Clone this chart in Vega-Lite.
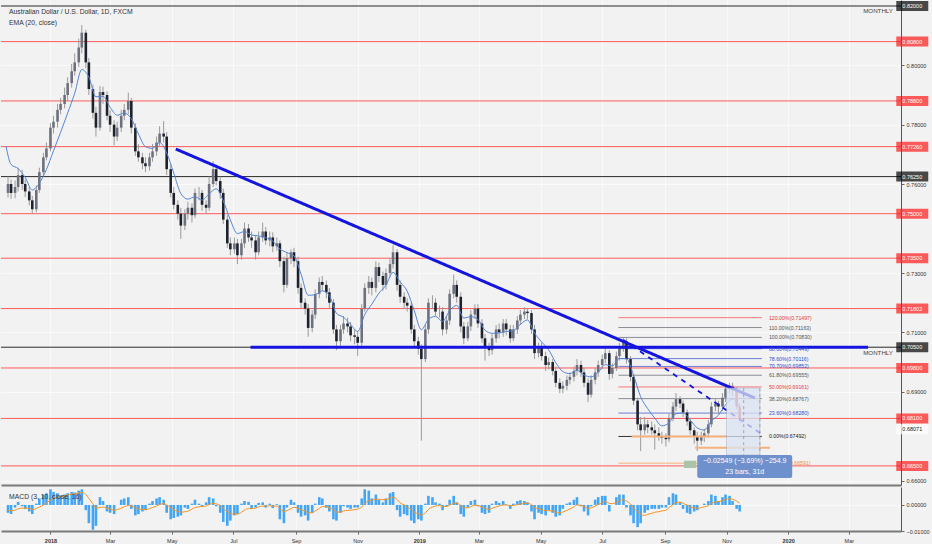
{
  "$schema": "https://vega.github.io/schema/vega-lite/v6.json",
  "background": "#f2f2f2",
  "padding": 0,
  "spacing": 2,
  "config": {
    "font": "Liberation Sans",
    "view": {"stroke": null},
    "axis": {"labelColor": "#333333", "tickColor": "#666666", "domainColor": "#555555", "gridColor": "#fafafa", "labelFontSize": 5.5}
  },
  "datasets": {
    "px": [
      {"d":"2017-11-20","o":0.757,"h":0.7625,"l":0.7555,"c":0.76,"m":-0.003,"s":-0.002},
      {"d":"2017-11-23","o":0.76,"h":0.7615,"l":0.755,"c":0.757,"m":-0.0035,"s":-0.0022},
      {"d":"2017-11-27","o":0.757,"h":0.7612,"l":0.7552,"c":0.759,"m":-0.001,"s":-0.002},
      {"d":"2017-11-30","o":0.759,"h":0.7655,"l":0.7575,"c":0.763,"m":0.0012,"s":-0.0015},
      {"d":"2017-12-04","o":0.763,"h":0.7648,"l":0.758,"c":0.76,"m":-0.0005,"s":-0.0012},
      {"d":"2017-12-07","o":0.76,"h":0.7615,"l":0.7556,"c":0.7575,"m":-0.0015,"s":-0.0012},
      {"d":"2017-12-11","o":0.7575,"h":0.759,"l":0.7528,"c":0.7545,"m":-0.0025,"s":-0.0014},
      {"d":"2017-12-14","o":0.7545,"h":0.756,"l":0.7501,"c":0.7515,"m":-0.0035,"s":-0.0018},
      {"d":"2017-12-18","o":0.7515,"h":0.7595,"l":0.7505,"c":0.758,"m":0.0005,"s":-0.0014},
      {"d":"2017-12-21","o":0.758,"h":0.7655,"l":0.757,"c":0.764,"m":0.0025,"s":-0.0008},
      {"d":"2017-12-25","o":0.764,"h":0.7705,"l":0.763,"c":0.769,"m":0.004,"s":0.0},
      {"d":"2017-12-28","o":0.769,"h":0.774,"l":0.768,"c":0.772,"m":0.0045,"s":0.0008},
      {"d":"2018-01-01","o":0.772,"h":0.7805,"l":0.771,"c":0.779,"m":0.006,"s":0.0018},
      {"d":"2018-01-04","o":0.779,"h":0.783,"l":0.777,"c":0.781,"m":0.005,"s":0.0025},
      {"d":"2018-01-08","o":0.781,"h":0.787,"l":0.779,"c":0.785,"m":0.0045,"s":0.003},
      {"d":"2018-01-11","o":0.785,"h":0.789,"l":0.7835,"c":0.787,"m":0.0035,"s":0.0032},
      {"d":"2018-01-15","o":0.787,"h":0.7925,"l":0.7855,"c":0.79,"m":0.004,"s":0.0035},
      {"d":"2018-01-18","o":0.79,"h":0.796,"l":0.788,"c":0.794,"m":0.0045,"s":0.0038},
      {"d":"2018-01-22","o":0.794,"h":0.8005,"l":0.7925,"c":0.798,"m":0.005,"s":0.0041},
      {"d":"2018-01-25","o":0.798,"h":0.804,"l":0.7965,"c":0.801,"m":0.0048,"s":0.0043},
      {"d":"2018-01-29","o":0.801,"h":0.809,"l":0.7995,"c":0.806,"m":0.0055,"s":0.0046},
      {"d":"2018-02-01","o":0.806,"h":0.8136,"l":0.804,"c":0.811,"m":0.006,"s":0.0048},
      {"d":"2018-02-05","o":0.811,"h":0.812,"l":0.799,"c":0.801,"m":-0.002,"s":0.004},
      {"d":"2018-02-08","o":0.801,"h":0.8025,"l":0.79,"c":0.792,"m":-0.007,"s":0.0025},
      {"d":"2018-02-12","o":0.792,"h":0.7935,"l":0.782,"c":0.784,"m":-0.0095,"s":0.0005},
      {"d":"2018-02-15","o":0.784,"h":0.786,"l":0.776,"c":0.779,"m":-0.008,"s":-0.0012},
      {"d":"2018-02-19","o":0.779,"h":0.793,"l":0.778,"c":0.791,"m":0.003,"s":-0.001},
      {"d":"2018-02-22","o":0.791,"h":0.7928,"l":0.787,"c":0.79,"m":0.0015,"s":-0.0008},
      {"d":"2018-02-26","o":0.79,"h":0.7912,"l":0.7815,"c":0.783,"m":-0.0025,"s":-0.0012},
      {"d":"2018-03-01","o":0.783,"h":0.785,"l":0.7775,"c":0.78,"m":-0.003,"s":-0.0016},
      {"d":"2018-03-05","o":0.78,"h":0.7815,"l":0.773,"c":0.776,"m":-0.0035,"s":-0.002},
      {"d":"2018-03-08","o":0.776,"h":0.781,"l":0.7745,"c":0.779,"m":0.0,"s":-0.0018},
      {"d":"2018-03-12","o":0.779,"h":0.785,"l":0.7775,"c":0.783,"m":0.002,"s":-0.0012},
      {"d":"2018-03-15","o":0.783,"h":0.787,"l":0.7815,"c":0.785,"m":0.0025,"s":-0.0007},
      {"d":"2018-03-19","o":0.785,"h":0.7908,"l":0.7835,"c":0.788,"m":0.003,"s":-0.0002},
      {"d":"2018-03-22","o":0.788,"h":0.789,"l":0.777,"c":0.779,"m":-0.0015,"s":-0.0004},
      {"d":"2018-03-26","o":0.779,"h":0.7805,"l":0.7695,"c":0.771,"m":-0.004,"s":-0.001},
      {"d":"2018-03-29","o":0.771,"h":0.7735,"l":0.7675,"c":0.769,"m":-0.0035,"s":-0.0015},
      {"d":"2018-04-02","o":0.769,"h":0.7705,"l":0.765,"c":0.767,"m":-0.0025,"s":-0.0017},
      {"d":"2018-04-05","o":0.767,"h":0.769,"l":0.764,"c":0.766,"m":-0.002,"s":-0.0018},
      {"d":"2018-04-09","o":0.766,"h":0.7705,"l":0.7645,"c":0.769,"m":0.0005,"s":-0.0014},
      {"d":"2018-04-12","o":0.769,"h":0.7735,"l":0.7675,"c":0.771,"m":0.0015,"s":-0.001},
      {"d":"2018-04-16","o":0.771,"h":0.776,"l":0.7695,"c":0.774,"m":0.0025,"s":-0.0004},
      {"d":"2018-04-19","o":0.774,"h":0.7795,"l":0.7725,"c":0.777,"m":0.003,"s":0.0002},
      {"d":"2018-04-23","o":0.777,"h":0.7812,"l":0.774,"c":0.776,"m":0.002,"s":0.0005},
      {"d":"2018-04-26","o":0.776,"h":0.7775,"l":0.763,"c":0.765,"m":-0.003,"s":0.0},
      {"d":"2018-04-30","o":0.765,"h":0.7665,"l":0.7555,"c":0.757,"m":-0.0055,"s":-0.001},
      {"d":"2018-05-03","o":0.757,"h":0.759,"l":0.7515,"c":0.753,"m":-0.005,"s":-0.0018},
      {"d":"2018-05-07","o":0.753,"h":0.7545,"l":0.748,"c":0.75,"m":-0.0045,"s":-0.0025},
      {"d":"2018-05-10","o":0.75,"h":0.752,"l":0.7415,"c":0.746,"m":-0.004,"s":-0.0028},
      {"d":"2018-05-14","o":0.746,"h":0.7515,"l":0.7445,"c":0.75,"m":-0.001,"s":-0.0026},
      {"d":"2018-05-17","o":0.75,"h":0.754,"l":0.748,"c":0.752,"m":-0.0015,"s":-0.0024},
      {"d":"2018-05-21","o":0.752,"h":0.7535,"l":0.747,"c":0.7495,"m":0.0005,"s":-0.0016},
      {"d":"2018-05-24","o":0.7495,"h":0.7585,"l":0.7485,"c":0.757,"m":0.002,"s":-0.001},
      {"d":"2018-05-28","o":0.757,"h":0.759,"l":0.7545,"c":0.757,"m":0.0005,"s":-0.0007},
      {"d":"2018-05-31","o":0.757,"h":0.758,"l":0.751,"c":0.753,"m":-0.0005,"s":-0.0006},
      {"d":"2018-06-04","o":0.753,"h":0.7545,"l":0.75,"c":0.752,"m":0.001,"s":-0.0004},
      {"d":"2018-06-07","o":0.752,"h":0.7625,"l":0.751,"c":0.76,"m":0.003,"s":0.0002},
      {"d":"2018-06-11","o":0.76,"h":0.7677,"l":0.759,"c":0.765,"m":0.0025,"s":0.0006},
      {"d":"2018-06-14","o":0.765,"h":0.7665,"l":0.7595,"c":0.761,"m":-0.0005,"s":0.0004},
      {"d":"2018-06-18","o":0.761,"h":0.7625,"l":0.755,"c":0.757,"m":-0.003,"s":-0.0002},
      {"d":"2018-06-21","o":0.757,"h":0.7585,"l":0.7465,"c":0.748,"m":-0.0065,"s":-0.0014},
      {"d":"2018-06-25","o":0.748,"h":0.7495,"l":0.7385,"c":0.74,"m":-0.008,"s":-0.0026},
      {"d":"2018-06-28","o":0.74,"h":0.742,"l":0.736,"c":0.738,"m":-0.006,"s":-0.0033},
      {"d":"2018-07-02","o":0.738,"h":0.742,"l":0.7365,"c":0.74,"m":-0.004,"s":-0.0035},
      {"d":"2018-07-05","o":0.74,"h":0.7415,"l":0.733,"c":0.736,"m":-0.0035,"s":-0.0035},
      {"d":"2018-07-09","o":0.736,"h":0.7415,"l":0.7345,"c":0.74,"m":0.0005,"s":-0.0028},
      {"d":"2018-07-12","o":0.74,"h":0.747,"l":0.7385,"c":0.745,"m":0.0015,"s":-0.002},
      {"d":"2018-07-16","o":0.745,"h":0.7465,"l":0.7405,"c":0.742,"m":0.0012,"s":-0.0014},
      {"d":"2018-07-19","o":0.742,"h":0.744,"l":0.7385,"c":0.741,"m":-0.0015,"s":-0.0014},
      {"d":"2018-07-23","o":0.741,"h":0.7425,"l":0.7345,"c":0.737,"m":-0.001,"s":-0.0012},
      {"d":"2018-07-26","o":0.737,"h":0.744,"l":0.736,"c":0.742,"m":0.0008,"s":-0.0007},
      {"d":"2018-07-30","o":0.742,"h":0.747,"l":0.7405,"c":0.744,"m":0.001,"s":-0.0004},
      {"d":"2018-08-02","o":0.744,"h":0.7455,"l":0.7395,"c":0.741,"m":-0.001,"s":-0.0005},
      {"d":"2018-08-06","o":0.741,"h":0.744,"l":0.739,"c":0.742,"m":0.0005,"s":-0.0003},
      {"d":"2018-08-09","o":0.742,"h":0.7437,"l":0.737,"c":0.739,"m":-0.0012,"s":-0.0005},
      {"d":"2018-08-13","o":0.739,"h":0.742,"l":0.7375,"c":0.74,"m":0.0003,"s":-0.0004},
      {"d":"2018-08-16","o":0.74,"h":0.741,"l":0.732,"c":0.734,"m":-0.0055,"s":-0.0014},
      {"d":"2018-08-20","o":0.734,"h":0.7355,"l":0.7235,"c":0.726,"m":-0.007,"s":-0.0025},
      {"d":"2018-08-23","o":0.726,"h":0.737,"l":0.725,"c":0.735,"m":-0.001,"s":-0.0022},
      {"d":"2018-08-27","o":0.735,"h":0.738,"l":0.733,"c":0.737,"m":0.002,"s":-0.0014},
      {"d":"2018-08-30","o":0.737,"h":0.7385,"l":0.732,"c":0.734,"m":0.001,"s":-0.0009},
      {"d":"2018-09-03","o":0.734,"h":0.7355,"l":0.723,"c":0.725,"m":-0.003,"s":-0.0013},
      {"d":"2018-09-06","o":0.725,"h":0.7265,"l":0.718,"c":0.72,"m":-0.0045,"s":-0.0019},
      {"d":"2018-09-10","o":0.72,"h":0.7215,"l":0.716,"c":0.718,"m":-0.004,"s":-0.0023},
      {"d":"2018-09-13","o":0.718,"h":0.7195,"l":0.7085,"c":0.7115,"m":-0.006,"s":-0.003},
      {"d":"2018-09-17","o":0.7115,"h":0.7175,"l":0.71,"c":0.716,"m":-0.003,"s":-0.003},
      {"d":"2018-09-20","o":0.716,"h":0.7245,"l":0.7145,"c":0.723,"m":0.0005,"s":-0.0023},
      {"d":"2018-09-24","o":0.723,"h":0.7285,"l":0.7215,"c":0.727,"m":0.003,"s":-0.0013},
      {"d":"2018-09-27","o":0.727,"h":0.729,"l":0.724,"c":0.726,"m":0.0025,"s":-0.0006},
      {"d":"2018-10-01","o":0.726,"h":0.7275,"l":0.7215,"c":0.7235,"m":-0.001,"s":-0.0007},
      {"d":"2018-10-04","o":0.7235,"h":0.725,"l":0.718,"c":0.72,"m":-0.0025,"s":-0.001},
      {"d":"2018-10-08","o":0.72,"h":0.7212,"l":0.7095,"c":0.711,"m":-0.0055,"s":-0.0019},
      {"d":"2018-10-11","o":0.711,"h":0.7125,"l":0.704,"c":0.707,"m":-0.006,"s":-0.0027},
      {"d":"2018-10-15","o":0.707,"h":0.7125,"l":0.7055,"c":0.711,"m":-0.003,"s":-0.0028},
      {"d":"2018-10-18","o":0.711,"h":0.7155,"l":0.7095,"c":0.713,"m":-0.0005,"s":-0.0023},
      {"d":"2018-10-22","o":0.713,"h":0.715,"l":0.71,"c":0.712,"m":-0.001,"s":-0.0021},
      {"d":"2018-10-25","o":0.712,"h":0.7135,"l":0.707,"c":0.709,"m":-0.0015,"s":-0.002},
      {"d":"2018-10-29","o":0.709,"h":0.711,"l":0.706,"c":0.7085,"m":-0.001,"s":-0.0018},
      {"d":"2018-11-01","o":0.7085,"h":0.7105,"l":0.702,"c":0.7065,"m":-0.001,"s":-0.0016},
      {"d":"2018-11-05","o":0.7065,"h":0.7195,"l":0.7055,"c":0.718,"m":0.0025,"s":-0.0008},
      {"d":"2018-11-08","o":0.718,"h":0.7265,"l":0.717,"c":0.725,"m":0.006,"s":0.0006},
      {"d":"2018-11-12","o":0.725,"h":0.729,"l":0.723,"c":0.727,"m":0.0055,"s":0.0016},
      {"d":"2018-11-15","o":0.727,"h":0.7285,"l":0.7225,"c":0.725,"m":0.0025,"s":0.0018},
      {"d":"2018-11-19","o":0.725,"h":0.734,"l":0.7235,"c":0.732,"m":0.004,"s":0.0022},
      {"d":"2018-11-22","o":0.732,"h":0.7335,"l":0.727,"c":0.729,"m":0.002,"s":0.0022},
      {"d":"2018-11-26","o":0.729,"h":0.7305,"l":0.724,"c":0.726,"m":0.001,"s":0.002},
      {"d":"2018-11-29","o":0.726,"h":0.7315,"l":0.7245,"c":0.73,"m":0.0025,"s":0.0021},
      {"d":"2018-12-03","o":0.73,"h":0.735,"l":0.7285,"c":0.733,"m":0.0045,"s":0.0026},
      {"d":"2018-12-06","o":0.733,"h":0.7394,"l":0.7315,"c":0.737,"m":0.005,"s":0.0031},
      {"d":"2018-12-10","o":0.737,"h":0.738,"l":0.724,"c":0.726,"m":-0.002,"s":0.0021},
      {"d":"2018-12-13","o":0.726,"h":0.7275,"l":0.72,"c":0.722,"m":-0.0045,"s":0.0008},
      {"d":"2018-12-17","o":0.722,"h":0.7235,"l":0.718,"c":0.72,"m":-0.0035,"s":0.0},
      {"d":"2018-12-20","o":0.72,"h":0.7215,"l":0.717,"c":0.719,"m":-0.004,"s":-0.0008},
      {"d":"2018-12-24","o":0.719,"h":0.72,"l":0.7095,"c":0.711,"m":-0.006,"s":-0.0018},
      {"d":"2018-12-27","o":0.711,"h":0.7125,"l":0.705,"c":0.707,"m":-0.007,"s":-0.0028},
      {"d":"2018-12-31","o":0.707,"h":0.7085,"l":0.7025,"c":0.7045,"m":-0.0055,"s":-0.0034},
      {"d":"2019-01-03","o":0.7045,"h":0.706,"l":0.6735,"c":0.701,"m":-0.006,"s":-0.0039},
      {"d":"2019-01-07","o":0.701,"h":0.7125,"l":0.7,"c":0.711,"m":0.0005,"s":-0.003},
      {"d":"2019-01-10","o":0.711,"h":0.7215,"l":0.7095,"c":0.72,"m":0.0035,"s":-0.0017},
      {"d":"2019-01-14","o":0.72,"h":0.7225,"l":0.718,"c":0.72,"m":0.003,"s":-0.0008},
      {"d":"2019-01-17","o":0.72,"h":0.7215,"l":0.7155,"c":0.717,"m":0.001,"s":-0.0004},
      {"d":"2019-01-21","o":0.717,"h":0.719,"l":0.715,"c":0.717,"m":0.0005,"s":-0.0002},
      {"d":"2019-01-24","o":0.717,"h":0.7185,"l":0.709,"c":0.711,"m":-0.002,"s":-0.0006},
      {"d":"2019-01-28","o":0.711,"h":0.7155,"l":0.7095,"c":0.714,"m":-0.0005,"s":-0.0006},
      {"d":"2019-01-31","o":0.714,"h":0.7245,"l":0.7125,"c":0.723,"m":0.002,"s":-0.0001},
      {"d":"2019-02-04","o":0.723,"h":0.7295,"l":0.7215,"c":0.726,"m":0.0035,"s":0.0006},
      {"d":"2019-02-07","o":0.726,"h":0.7275,"l":0.72,"c":0.722,"m":0.001,"s":0.0007},
      {"d":"2019-02-11","o":0.722,"h":0.7235,"l":0.71,"c":0.712,"m":-0.0035,"s":-0.0002},
      {"d":"2019-02-14","o":0.712,"h":0.7135,"l":0.706,"c":0.708,"m":-0.0045,"s":-0.0011},
      {"d":"2019-02-18","o":0.708,"h":0.7135,"l":0.707,"c":0.712,"m":-0.001,"s":-0.0011},
      {"d":"2019-02-21","o":0.712,"h":0.7175,"l":0.7105,"c":0.716,"m":0.0015,"s":-0.0006},
      {"d":"2019-02-25","o":0.716,"h":0.7195,"l":0.7145,"c":0.718,"m":0.002,"s":-0.0001},
      {"d":"2019-02-28","o":0.718,"h":0.7195,"l":0.7115,"c":0.713,"m":-0.0005,"s":-0.0002},
      {"d":"2019-03-04","o":0.713,"h":0.7145,"l":0.7065,"c":0.708,"m":-0.003,"s":-0.0008},
      {"d":"2019-03-07","o":0.708,"h":0.7095,"l":0.7005,"c":0.705,"m":-0.0035,"s":-0.0013},
      {"d":"2019-03-11","o":0.705,"h":0.7065,"l":0.702,"c":0.704,"m":-0.003,"s":-0.0017},
      {"d":"2019-03-14","o":0.704,"h":0.7095,"l":0.7025,"c":0.708,"m":0.0005,"s":-0.0013},
      {"d":"2019-03-18","o":0.708,"h":0.7125,"l":0.7065,"c":0.711,"m":0.0015,"s":-0.0007},
      {"d":"2019-03-21","o":0.711,"h":0.713,"l":0.708,"c":0.71,"m":0.0008,"s":-0.0004},
      {"d":"2019-03-25","o":0.71,"h":0.7145,"l":0.7085,"c":0.713,"m":0.0015,"s":0.0},
      {"d":"2019-03-28","o":0.713,"h":0.7145,"l":0.709,"c":0.711,"m":0.0002,"s":0.0},
      {"d":"2019-04-01","o":0.711,"h":0.7125,"l":0.7065,"c":0.708,"m":-0.0015,"s":-0.0003},
      {"d":"2019-04-04","o":0.708,"h":0.7125,"l":0.707,"c":0.711,"m":0.0005,"s":-0.0002},
      {"d":"2019-04-08","o":0.711,"h":0.7155,"l":0.7095,"c":0.714,"m":0.0015,"s":0.0001},
      {"d":"2019-04-11","o":0.714,"h":0.7175,"l":0.7125,"c":0.716,"m":0.0018,"s":0.0004},
      {"d":"2019-04-15","o":0.716,"h":0.7185,"l":0.7145,"c":0.717,"m":0.0015,"s":0.0006},
      {"d":"2019-04-18","o":0.717,"h":0.718,"l":0.7145,"c":0.7165,"m":0.001,"s":0.0007},
      {"d":"2019-04-22","o":0.7165,"h":0.7175,"l":0.7095,"c":0.711,"m":-0.0025,"s":0.0001},
      {"d":"2019-04-25","o":0.711,"h":0.7125,"l":0.701,"c":0.703,"m":-0.0055,"s":-0.001},
      {"d":"2019-04-29","o":0.703,"h":0.7065,"l":0.7015,"c":0.705,"m":-0.003,"s":-0.0014},
      {"d":"2019-05-02","o":0.705,"h":0.7065,"l":0.7005,"c":0.702,"m":-0.0035,"s":-0.0018},
      {"d":"2019-05-06","o":0.702,"h":0.7035,"l":0.697,"c":0.699,"m":-0.004,"s":-0.0022},
      {"d":"2019-05-09","o":0.699,"h":0.7015,"l":0.6975,"c":0.7,"m":-0.002,"s":-0.0022},
      {"d":"2019-05-13","o":0.7,"h":0.701,"l":0.6955,"c":0.697,"m":-0.003,"s":-0.0023},
      {"d":"2019-05-16","o":0.697,"h":0.6985,"l":0.6915,"c":0.693,"m":-0.0045,"s":-0.0028},
      {"d":"2019-05-20","o":0.693,"h":0.6945,"l":0.6895,"c":0.691,"m":-0.004,"s":-0.003},
      {"d":"2019-05-23","o":0.691,"h":0.6935,"l":0.6895,"c":0.692,"m":-0.0015,"s":-0.0027},
      {"d":"2019-05-27","o":0.692,"h":0.6955,"l":0.6905,"c":0.694,"m":0.0005,"s":-0.0021},
      {"d":"2019-05-30","o":0.694,"h":0.6965,"l":0.6925,"c":0.695,"m":0.001,"s":-0.0015},
      {"d":"2019-06-03","o":0.695,"h":0.6985,"l":0.6935,"c":0.697,"m":0.002,"s":-0.0008},
      {"d":"2019-06-06","o":0.697,"h":0.701,"l":0.6955,"c":0.699,"m":0.003,"s":0.0},
      {"d":"2019-06-10","o":0.699,"h":0.7005,"l":0.695,"c":0.6965,"m":-0.0005,"s":-0.0001},
      {"d":"2019-06-13","o":0.6965,"h":0.698,"l":0.6915,"c":0.693,"m":-0.0025,"s":-0.0006},
      {"d":"2019-06-17","o":0.693,"h":0.6945,"l":0.6865,"c":0.689,"m":-0.004,"s":-0.0013},
      {"d":"2019-06-20","o":0.689,"h":0.6955,"l":0.688,"c":0.694,"m":-0.0005,"s":-0.0011},
      {"d":"2019-06-24","o":0.694,"h":0.698,"l":0.6925,"c":0.6965,"m":0.002,"s":-0.0005},
      {"d":"2019-06-27","o":0.6965,"h":0.7005,"l":0.695,"c":0.699,"m":0.003,"s":0.0002},
      {"d":"2019-07-01","o":0.699,"h":0.7025,"l":0.6975,"c":0.701,"m":0.0035,"s":0.0008},
      {"d":"2019-07-04","o":0.701,"h":0.7048,"l":0.6995,"c":0.703,"m":0.0035,"s":0.0014},
      {"d":"2019-07-08","o":0.703,"h":0.704,"l":0.694,"c":0.696,"m":-0.0025,"s":0.0006},
      {"d":"2019-07-11","o":0.696,"h":0.6995,"l":0.6945,"c":0.698,"m":0.0,"s":0.0005},
      {"d":"2019-07-15","o":0.698,"h":0.7035,"l":0.697,"c":0.702,"m":0.003,"s":0.001},
      {"d":"2019-07-18","o":0.702,"h":0.7065,"l":0.7005,"c":0.705,"m":0.004,"s":0.0016},
      {"d":"2019-07-22","o":0.705,"h":0.7083,"l":0.7035,"c":0.707,"m":0.004,"s":0.0021},
      {"d":"2019-07-25","o":0.707,"h":0.708,"l":0.6995,"c":0.701,"m":-0.001,"s":0.0015},
      {"d":"2019-07-29","o":0.701,"h":0.702,"l":0.6935,"c":0.695,"m":-0.004,"s":0.0004},
      {"d":"2019-08-01","o":0.695,"h":0.696,"l":0.6855,"c":0.687,"m":-0.007,"s":-0.0011},
      {"d":"2019-08-05","o":0.687,"h":0.688,"l":0.677,"c":0.679,"m":-0.0085,"s":-0.0026},
      {"d":"2019-08-08","o":0.679,"h":0.6815,"l":0.67,"c":0.677,"m":-0.007,"s":-0.0035},
      {"d":"2019-08-12","o":0.677,"h":0.6815,"l":0.6755,"c":0.679,"m":-0.003,"s":-0.004},
      {"d":"2019-08-15","o":0.679,"h":0.6805,"l":0.676,"c":0.678,"m":-0.002,"s":-0.0036},
      {"d":"2019-08-19","o":0.678,"h":0.68,"l":0.6755,"c":0.677,"m":-0.0015,"s":-0.0032},
      {"d":"2019-08-22","o":0.677,"h":0.679,"l":0.6705,"c":0.676,"m":-0.0015,"s":-0.0028},
      {"d":"2019-08-26","o":0.676,"h":0.678,"l":0.6735,"c":0.675,"m":-0.0015,"s":-0.0026},
      {"d":"2019-08-29","o":0.675,"h":0.6765,"l":0.6725,"c":0.6745,"m":-0.001,"s":-0.0023},
      {"d":"2019-09-02","o":0.6745,"h":0.676,"l":0.6715,"c":0.674,"m":-0.001,"s":-0.002},
      {"d":"2019-09-05","o":0.674,"h":0.6825,"l":0.673,"c":0.681,"m":0.003,"s":-0.001},
      {"d":"2019-09-09","o":0.681,"h":0.6865,"l":0.68,"c":0.685,"m":0.0045,"s":0.0001},
      {"d":"2019-09-12","o":0.685,"h":0.6895,"l":0.6835,"c":0.6875,"m":0.004,"s":0.0009},
      {"d":"2019-09-16","o":0.6875,"h":0.6885,"l":0.6845,"c":0.686,"m":0.001,"s":0.0011},
      {"d":"2019-09-19","o":0.686,"h":0.687,"l":0.6815,"c":0.683,"m":-0.0015,"s":0.0006},
      {"d":"2019-09-23","o":0.683,"h":0.684,"l":0.6785,"c":0.68,"m":-0.003,"s":-0.0001},
      {"d":"2019-09-26","o":0.68,"h":0.681,"l":0.6755,"c":0.677,"m":-0.0035,"s":-0.0008},
      {"d":"2019-09-30","o":0.677,"h":0.678,"l":0.6725,"c":0.675,"m":-0.0025,"s":-0.0011},
      {"d":"2019-10-03","o":0.675,"h":0.6765,"l":0.67,"c":0.6735,"m":-0.002,"s":-0.0013},
      {"d":"2019-10-07","o":0.6735,"h":0.6765,"l":0.672,"c":0.675,"m":0.0,"s":-0.001},
      {"d":"2019-10-10","o":0.675,"h":0.6775,"l":0.673,"c":0.676,"m":0.0005,"s":-0.0007},
      {"d":"2019-10-14","o":0.676,"h":0.6805,"l":0.6745,"c":0.679,"m":0.0015,"s":-0.0003},
      {"d":"2019-10-17","o":0.679,"h":0.6865,"l":0.678,"c":0.685,"m":0.004,"s":0.0006},
      {"d":"2019-10-21","o":0.685,"h":0.6875,"l":0.6835,"c":0.686,"m":0.0035,"s":0.0012},
      {"d":"2019-10-24","o":0.686,"h":0.687,"l":0.6825,"c":0.685,"m":0.0015,"s":0.0013},
      {"d":"2019-10-28","o":0.685,"h":0.6895,"l":0.6835,"c":0.688,"m":0.003,"s":0.0016},
      {"d":"2019-10-31","o":0.688,"h":0.6925,"l":0.6865,"c":0.691,"m":0.004,"s":0.0021},
      {"d":"2019-11-04","o":0.691,"h":0.693,"l":0.6895,"c":0.692,"m":0.0035,"s":0.0024},
      {"d":"2019-11-07","o":0.692,"h":0.693,"l":0.6885,"c":0.6905,"m":0.0015,"s":0.0022},
      {"d":"2019-11-11","o":0.6905,"h":0.6915,"l":0.684,"c":0.685,"m":-0.0015,"s":0.0015},
      {"d":"2019-11-14","o":0.685,"h":0.686,"l":0.6795,"c":0.6807,"m":-0.0025,"s":0.0007}
    ],
    "ema": [
      {"d":"2017-11-18","v":0.7728},{"d":"2017-11-23","v":0.7666},{"d":"2017-11-30","v":0.7652},{"d":"2017-12-07","v":0.7622},
      {"d":"2017-12-14","v":0.758},{"d":"2017-12-21","v":0.7603},{"d":"2017-12-28","v":0.7649},{"d":"2018-01-04","v":0.7712},
      {"d":"2018-01-11","v":0.7774},{"d":"2018-01-18","v":0.7839},{"d":"2018-01-25","v":0.7906},{"d":"2018-02-01","v":0.7986},
      {"d":"2018-02-08","v":0.796},{"d":"2018-02-15","v":0.7894},{"d":"2018-02-22","v":0.7896},{"d":"2018-03-01","v":0.7859},
      {"d":"2018-03-08","v":0.7832},{"d":"2018-03-15","v":0.7839},{"d":"2018-03-22","v":0.782},{"d":"2018-03-29","v":0.7769},
      {"d":"2018-04-05","v":0.7726},{"d":"2018-04-12","v":0.772},{"d":"2018-04-19","v":0.774},{"d":"2018-04-26","v":0.7705},
      {"d":"2018-05-03","v":0.7637},{"d":"2018-05-10","v":0.7568},{"d":"2018-05-17","v":0.7549},{"d":"2018-05-24","v":0.7557},
      {"d":"2018-05-31","v":0.7546},{"d":"2018-06-07","v":0.7567},{"d":"2018-06-14","v":0.7584},{"d":"2018-06-21","v":0.7543},
      {"d":"2018-06-28","v":0.7479},{"d":"2018-07-05","v":0.7433},{"d":"2018-07-12","v":0.744},{"d":"2018-07-19","v":0.7428},
      {"d":"2018-07-26","v":0.7425},{"d":"2018-08-02","v":0.7419},{"d":"2018-08-09","v":0.7408},{"d":"2018-08-16","v":0.7381},
      {"d":"2018-08-23","v":0.7369},{"d":"2018-08-30","v":0.7358},{"d":"2018-09-06","v":0.7296},{"d":"2018-09-13","v":0.7225},
      {"d":"2018-09-20","v":0.7227},{"d":"2018-09-27","v":0.724},{"d":"2018-10-04","v":0.7224},{"d":"2018-10-11","v":0.7164},
      {"d":"2018-10-18","v":0.7151},{"d":"2018-10-25","v":0.7127},{"d":"2018-11-01","v":0.7103},{"d":"2018-11-08","v":0.716},
      {"d":"2018-11-15","v":0.7195},{"d":"2018-11-22","v":0.7232},{"d":"2018-11-29","v":0.7259},{"d":"2018-12-06","v":0.7302},
      {"d":"2018-12-13","v":0.727},{"d":"2018-12-20","v":0.7239},{"d":"2018-12-27","v":0.7173},{"d":"2019-01-03","v":0.7109},
      {"d":"2019-01-10","v":0.7144},{"d":"2019-01-17","v":0.7154},{"d":"2019-01-24","v":0.7137},{"d":"2019-01-31","v":0.7173},
      {"d":"2019-02-07","v":0.7191},{"d":"2019-02-14","v":0.7148},{"d":"2019-02-21","v":0.7153},{"d":"2019-02-28","v":0.7144},
      {"d":"2019-03-07","v":0.7107},{"d":"2019-03-14","v":0.7097},{"d":"2019-03-21","v":0.7098},{"d":"2019-03-28","v":0.7103},
      {"d":"2019-04-04","v":0.7106},{"d":"2019-04-11","v":0.7127},{"d":"2019-04-18","v":0.7142},{"d":"2019-04-25","v":0.7098},
      {"d":"2019-05-02","v":0.7068},{"d":"2019-05-09","v":0.7041},{"d":"2019-05-16","v":0.6998},{"d":"2019-05-23","v":0.6968},
      {"d":"2019-05-30","v":0.6961},{"d":"2019-06-06","v":0.6972},{"d":"2019-06-13","v":0.6956},{"d":"2019-06-20","v":0.695},
      {"d":"2019-06-27","v":0.6966},{"d":"2019-07-04","v":0.6991},{"d":"2019-07-11","v":0.6987},{"d":"2019-07-18","v":0.7012},
      {"d":"2019-07-25","v":0.7011},{"d":"2019-08-01","v":0.6956},{"d":"2019-08-08","v":0.6883},{"d":"2019-08-15","v":0.6843},
      {"d":"2019-08-22","v":0.6811},{"d":"2019-08-29","v":0.6785},{"d":"2019-09-05","v":0.6795},{"d":"2019-09-12","v":0.6826},
      {"d":"2019-09-19","v":0.6828},{"d":"2019-09-26","v":0.6805},{"d":"2019-10-03","v":0.6778},{"d":"2019-10-10","v":0.6771},
      {"d":"2019-10-17","v":0.6802},{"d":"2019-10-24","v":0.6821},{"d":"2019-10-31","v":0.6856},{"d":"2019-11-07","v":0.6875},
      {"d":"2019-11-14","v":0.6848}
    ],
    "lv": [
      {"p":0.82,"k":"b"},{"p":0.808,"k":"r"},{"p":0.788,"k":"r"},{"p":0.7726,"k":"r"},{"p":0.7625,"k":"b"},
      {"p":0.75,"k":"r"},{"p":0.735,"k":"r"},{"p":0.71802,"k":"r"},{"p":0.705,"k":"b"},{"p":0.698,"k":"r"},
      {"p":0.681,"k":"r"},{"p":0.665,"k":"r"},{"p":0.68071,"k":"c"}
    ],
    "fib": [
      {"p":0.71497,"t":"120.00%(0.71497)","k":"r"},
      {"p":0.71163,"t":"110.00%(0.71163)","k":"g"},
      {"p":0.7083,"t":"100.00%(0.70830)","k":"g"},
      {"p":0.70449,"t":"88.60%(0.70449)","k":"b"},
      {"p":0.70116,"t":"78.60%(0.70116)","k":"b"},
      {"p":0.69852,"t":"70.70%(0.69852)","k":"b"},
      {"p":0.69555,"t":"61.80%(0.69555)","k":"g"},
      {"p":0.69161,"t":"50.00%(0.69161)","k":"r"},
      {"p":0.68767,"t":"38.20%(0.68767)","k":"g"},
      {"p":0.6828,"t":"23.60%(0.68280)","k":"b"},
      {"p":0.67492,"t":"0.00%(0.67492)","k":"k"},
      {"p":0.66591,"t":"-27.00%(0.66591)","k":"o"}
    ],
    "tl": [
      {"a":"2018-05-05","b":"2019-11-29","p1":0.7718,"p2":0.68788,"k":"t"},
      {"a":"2018-07-18","b":"2020-03-20","p1":0.705,"p2":0.705,"k":"t"},
      {"a":"2019-07-22","b":"2019-12-07","p1":0.7074,"p2":0.67541,"k":"d"}
    ]
  },
  "vconcat": [
    {
      "width": 900,
      "height": 485,
      "layer": [
        {
          "data": {"name": "lv"},
          "transform": [{"filter": "datum.k != 'c'"}],
          "mark": {"type": "rule", "strokeWidth": 1},
          "encoding": {
            "y": {"field": "p", "type": "quantitative"},
            "color": {"condition": {"test": "datum.k == 'r'", "value": "#ff5a5a"}, "value": "#2a2a2a"}
          }
        },
        {
          "data": {"name": "fib"},
          "mark": {"type": "rule", "strokeWidth": 1},
          "encoding": {
            "x": {"datum": 1563321600000, "type": "temporal"},
            "x2": {"datum": 1575590400000},
            "y": {"field": "p", "type": "quantitative"},
            "color": {"condition": [
              {"test": "datum.k == 'r'", "value": "#f77a7a"},
              {"test": "datum.k == 'b'", "value": "#6b7fd6"},
              {"test": "datum.k == 'o'", "value": "#f5b27a"},
              {"test": "datum.k == 'k'", "value": "#333333"}
            ], "value": "#8a8d94"}
          }
        },
        {
          "data": {"name": "px"},
          "mark": {"type": "rule", "color": "#9a9a9a", "strokeWidth": 1},
          "encoding": {
            "x": {
              "field": "d", "type": "temporal",
              "scale": {"type": "utc", "domain": [1510963200000, 1587055680000], "nice": false},
              "axis": {
                "title": null, "labels": false, "ticks": false, "domain": true, "domainColor": "#7a7a7a", "domainWidth": 2,
                "grid": true, "gridColor": "#fafafa", "minExtent": 0, "maxExtent": 0,
                "values": [1514764800000,1519862400000,1525132800000,1530403200000,1535760000000,1541030400000,1546300800000,1551398400000,1556668800000,1561939200000,1567296000000,1572566400000,1577836800000,1583020800000]
              }
            },
            "y": {
              "field": "l", "type": "quantitative",
              "scale": {"domain": [0.65856, 0.82202], "nice": false, "zero": false},
              "axis": {
                "orient": "right", "title": null, "format": ".5f", "tickSize": 3, "labelPadding": 2,
                "grid": true, "gridColor": "#fafafa", "minExtent": 32, "maxExtent": 32,
                "values": [0.66,0.67,0.69,0.7,0.71,0.72,0.73,0.74,0.76,0.77,0.78,0.79,0.8,0.81]
              }
            },
            "y2": {"field": "h"}
          }
        },
        {
          "data": {"name": "px"},
          "mark": {"type": "bar", "size": 2.6},
          "encoding": {
            "x": {"field": "d", "type": "temporal"},
            "y": {"field": "o", "type": "quantitative"},
            "y2": {"field": "c"},
            "color": {"condition": [
              {"test": "time(datum.d) >= utc(2019,10,7)", "value": "#e5534f"},
              {"test": "datum.c >= datum.o", "value": "#6c717d"}
            ], "value": "#1e222d"}
          }
        },
        {
          "data": {"name": "ema"},
          "mark": {"type": "line", "color": "#5585d4", "strokeWidth": 1, "interpolate": "monotone"},
          "encoding": {
            "x": {"field": "d", "type": "temporal"},
            "y": {"field": "v", "type": "quantitative"}
          }
        },
        {
          "data": {"name": "tl"},
          "mark": {"type": "rule", "color": "#1414e0"},
          "encoding": {
            "x": {"field": "a", "type": "temporal"},
            "x2": {"field": "b"},
            "y": {"field": "p1", "type": "quantitative"},
            "y2": {"field": "p2"},
            "strokeWidth": {"condition": {"test": "datum.k == 'd'", "value": 1.8}, "value": 3},
            "strokeDash": {"condition": {"test": "datum.k == 'd'", "value": [5, 5]}, "value": [1, 0]}
          }
        },
        {
          "data": {"values": [
            {"a":"2019-07-30","b":"2019-11-01","p":0.67492},
            {"a":"2019-10-01","b":"2019-12-14","p":0.67113}
          ]},
          "mark": {"type": "rule", "color": "#f6b07c", "strokeWidth": 2},
          "encoding": {
            "x": {"field": "a", "type": "temporal"},
            "x2": {"field": "b"},
            "y": {"field": "p", "type": "quantitative"}
          }
        },
        {
          "data": {"name": "fib"},
          "mark": {"type": "text", "align": "left", "baseline": "middle", "fontSize": 5.2},
          "encoding": {
            "x": {"datum": 1576195200000, "type": "temporal"},
            "y": {"field": "p", "type": "quantitative"},
            "text": {"field": "t"},
            "color": {"condition": [
              {"test": "datum.k == 'r'", "value": "#e53935"},
              {"test": "datum.k == 'b'", "value": "#2f4fd1"},
              {"test": "datum.k == 'o'", "value": "#f08c3a"},
              {"test": "datum.k == 'k'", "value": "#131722"}
            ], "value": "#555555"}
          }
        },
        {
          "data": {"values": [{"a":"2019-11-01","b":"2019-12-04","p1":0.69125,"p2":0.66867}]},
          "mark": {"type": "rect", "color": "#dbe4f3", "opacity": 0.75, "stroke": "#9aa6b8", "strokeWidth": 0.6},
          "encoding": {
            "x": {"field": "a", "type": "temporal"},
            "x2": {"field": "b"},
            "y": {"field": "p1", "type": "quantitative"},
            "y2": {"field": "p2"}
          }
        },
        {
          "data": {"values": [{"a":"2019-11-18","p1":0.6912,"p2":0.6687},{"a":"2019-12-04","p1":0.6912,"p2":0.6687}]},
          "mark": {"type": "rule", "color": "#8a93a3", "strokeWidth": 0.8, "strokeDash": [3, 3]},
          "encoding": {
            "x": {"field": "a", "type": "temporal"},
            "y": {"field": "p1", "type": "quantitative"},
            "y2": {"field": "p2"}
          }
        },
        {
          "data": {"values": [{"a":"2019-09-20","b":"2019-10-02","p1":0.66675,"p2":0.66429}]},
          "mark": {"type": "rect", "color": "#a9c4a9"},
          "encoding": {
            "x": {"field": "a", "type": "temporal"},
            "x2": {"field": "b"},
            "y": {"field": "p1", "type": "quantitative"},
            "y2": {"field": "p2"}
          }
        },
        {
          "data": {"values": [{"a":"2019-10-03","b":"2020-01-05","p1":0.66867,"p2":0.66091}]},
          "mark": {"type": "rect", "color": "#6e91cd", "cornerRadius": 2},
          "encoding": {
            "x": {"field": "a", "type": "temporal"},
            "x2": {"field": "b"},
            "y": {"field": "p1", "type": "quantitative"},
            "y2": {"field": "p2"}
          }
        },
        {
          "data": {"values": [
            {"a":"2019-11-19","p":0.66664,"t":"−0.02549 (−3.69%) −254.9"},
            {"a":"2019-11-19","p":0.66283,"t":"23 bars, 31d"}
          ]},
          "mark": {"type": "text", "color": "#ffffff", "fontSize": 7, "align": "center", "baseline": "middle"},
          "encoding": {
            "x": {"field": "a", "type": "temporal"},
            "y": {"field": "p", "type": "quantitative"},
            "text": {"field": "t"}
          }
        },
        {
          "data": {"name": "lv"},
          "transform": [{"filter": "datum.k != 'c'"}],
          "mark": {"type": "tick", "orient": "horizontal", "thickness": 10, "size": 32},
          "encoding": {
            "x": {"datum": 1588446720000, "type": "temporal"},
            "y": {"field": "p", "type": "quantitative"},
            "color": {"condition": {"test": "datum.k == 'r'", "value": "#ff1a1a"}, "value": "#000000"}
          }
        },
        {
          "data": {"name": "lv"},
          "transform": [{"filter": "datum.k != 'c'"}],
          "mark": {"type": "text", "fontSize": 5.5, "align": "center", "baseline": "middle", "color": "#ffffff"},
          "encoding": {
            "x": {"datum": 1588446720000, "type": "temporal"},
            "y": {"field": "p", "type": "quantitative"},
            "text": {"field": "p", "type": "quantitative", "format": ".5f"}
          }
        },
        {
          "data": {"name": "lv"},
          "transform": [{"filter": "datum.k == 'c'"}],
          "mark": {"type": "tick", "orient": "horizontal", "thickness": 10, "size": 32, "color": "#ffffff", "yOffset": 10},
          "encoding": {
            "x": {"datum": 1588446720000, "type": "temporal"},
            "y": {"field": "p", "type": "quantitative"}
          }
        },
        {
          "data": {"name": "lv"},
          "transform": [{"filter": "datum.k == 'c'"}],
          "mark": {"type": "text", "fontSize": 5.5, "align": "center", "baseline": "middle", "color": "#131722", "dy": 10},
          "encoding": {
            "x": {"datum": 1588446720000, "type": "temporal"},
            "y": {"field": "p", "type": "quantitative"},
            "text": {"field": "p", "type": "quantitative", "format": ".5f"}
          }
        },
        {
          "data": {"values": [
            {"p":0.81814,"t":"Australian Dollar / U.S. Dollar, 1D, FXCM"},
            {"p":0.8141,"t":"EMA (20, close)"}
          ]},
          "mark": {"type": "text", "align": "left", "baseline": "middle", "fontSize": 6.8, "color": "#333333"},
          "encoding": {
            "x": {"datum": 1511222400000, "type": "temporal"},
            "y": {"field": "p", "type": "quantitative"},
            "text": {"field": "t"}
          }
        },
        {
          "data": {"values": [{"p":0.8183,"t":"MONTHLY"},{"p":0.70304,"t":"MONTHLY"}]},
          "mark": {"type": "text", "align": "right", "baseline": "middle", "fontSize": 6.2, "color": "#444444"},
          "encoding": {
            "x": {"datum": 1586796480000, "type": "temporal"},
            "y": {"field": "p", "type": "quantitative"},
            "text": {"field": "t"}
          }
        }
      ]
    },
    {
      "width": 900,
      "height": 44,
      "layer": [
        {
          "data": {"name": "px"},
          "mark": {"type": "bar", "size": 2.6, "color": "#42a5f5"},
          "encoding": {
            "x": {
              "field": "d", "type": "temporal",
              "scale": {"type": "utc", "domain": [1510963200000, 1587055680000], "nice": false},
              "axis": {
                "title": null, "tickSize": 3, "labelPadding": 4, "labelFlush": false, "grid": true, "gridColor": "#fafafa",
                "domainColor": "#7a7a7a", "domainWidth": 2,
                "values": [1514764800000,1519862400000,1525132800000,1530403200000,1535760000000,1541030400000,1546300800000,1551398400000,1556668800000,1561939200000,1567296000000,1572566400000,1577836800000,1583020800000],
                "labelExpr": "utcFormat(datum.value, '%m') == '01' ? utcFormat(datum.value, '%Y') : utcFormat(datum.value, '%b')",
                "labelFontWeight": {"condition": {"test": "utcFormat(datum.value, '%m') == '01'", "value": "bold"}, "value": "normal"}
              }
            },
            "y": {
              "field": "m", "type": "quantitative",
              "scale": {"domain": [-0.01, 0.0069], "nice": false, "zero": false},
              "axis": {"orient": "right", "title": null, "format": ".5f", "values": [-0.01, 0], "tickSize": 3, "labelPadding": 2, "grid": true, "gridColor": "#fafafa", "minExtent": 32, "maxExtent": 32}
            }
          }
        },
        {
          "data": {"name": "px"},
          "mark": {"type": "line", "color": "#f7931e", "strokeWidth": 1, "interpolate": "monotone"},
          "encoding": {
            "x": {"field": "d", "type": "temporal"},
            "y": {"field": "s", "type": "quantitative"}
          }
        },
        {
          "data": {"values": [{"t": "MACD (3, 10, close, 16)"}]},
          "mark": {"type": "text", "align": "left", "baseline": "middle", "fontSize": 6.8, "color": "#333333"},
          "encoding": {
            "x": {"datum": 1511222400000, "type": "temporal"},
            "y": {"datum": 0.0031, "type": "quantitative"},
            "text": {"field": "t"}
          }
        }
      ]
    }
  ]
}
